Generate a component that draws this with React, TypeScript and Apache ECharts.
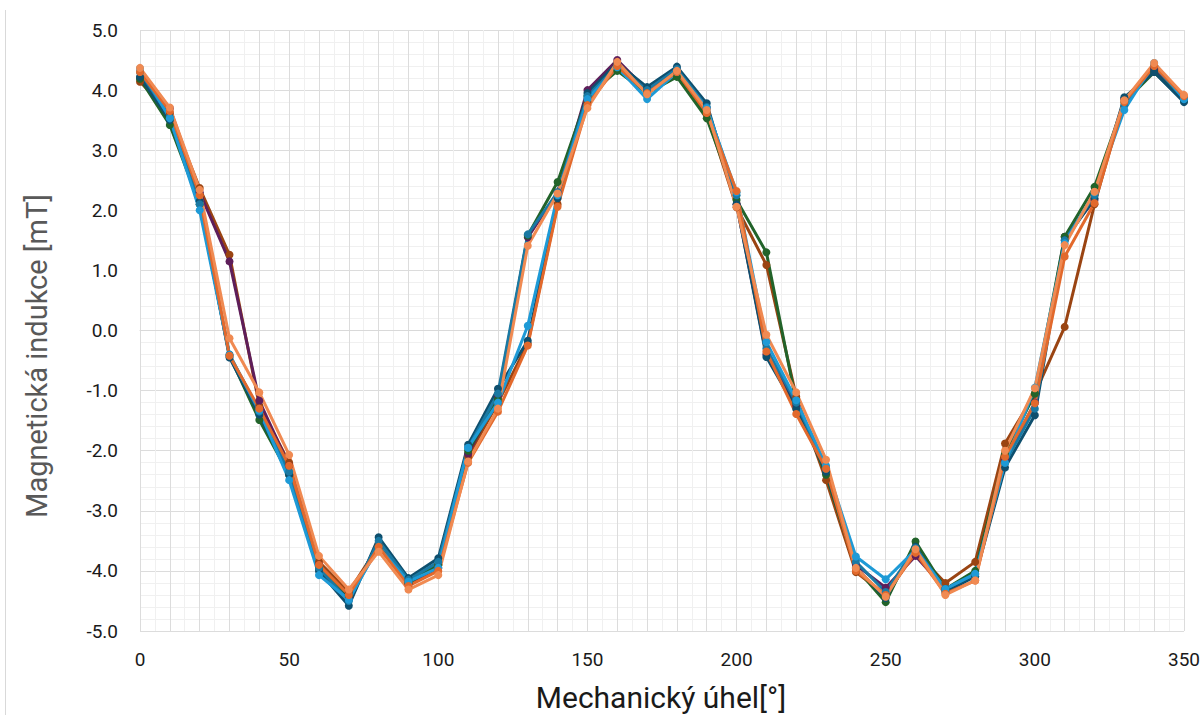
import React, { useEffect, useRef } from "react";
import * as echarts from "echarts";

const angles = [0,10,20,30,40,50,60,70,80,90,100,110,120,130,140,150,160,170,180,190,200,210,220,230,240,250,260,270,280,290,300,310,320,330,340,350];

const brown = [4.14,3.62,2.37,1.26,-1.25,-2.2,-3.85,-4.35,-3.58,-4.18,-3.9,-2.1,-1.2,-0.22,2.1,3.8,4.4,3.95,4.3,3.6,2.05,1.09,-1.1,-2.49,-4.02,-4.4,-3.68,-4.2,-3.85,-1.88,-1.05,0.06,2.1,3.85,4.35,3.88];
const purple = [4.2,3.7,2.3,1.15,-1.17,-2.25,-3.9,-4.45,-3.6,-4.22,-3.95,-2.05,-1.1,1.55,2.3,4.0,4.5,4.0,4.35,3.7,2.1,-0.4,-1.25,-2.3,-3.9,-4.28,-3.75,-4.3,-4.05,-2.15,-1.2,1.56,2.17,3.85,4.35,3.85];
const green = [4.19,3.42,2.1,-0.42,-1.49,-2.4,-3.95,-4.41,-3.6,-4.2,-3.9,-2.0,-1.15,1.58,2.47,3.9,4.32,3.95,4.22,3.53,2.17,1.3,-1.2,-2.4,-3.95,-4.52,-3.51,-4.3,-4.0,-2.05,-1.05,1.56,2.39,3.8,4.3,3.82];
const navy = [4.22,3.5,2.15,-0.45,-1.4,-2.4,-4.0,-4.58,-3.44,-4.12,-3.79,-1.9,-0.97,-0.17,2.2,3.95,4.45,4.05,4.39,3.78,2.1,-0.44,-1.3,-2.35,-3.95,-4.45,-3.6,-4.35,-4.09,-2.28,-1.41,1.5,2.2,3.88,4.3,3.8];
const teal = [4.3,3.55,2.1,-0.4,-1.35,-2.35,-3.95,-4.5,-3.5,-4.15,-3.85,-1.95,-1.05,1.6,2.3,3.9,4.4,4.0,4.35,3.72,2.25,-0.3,-1.2,-2.3,-3.85,-4.35,-3.62,-4.3,-4.05,-2.2,-1.3,1.5,2.25,3.75,4.4,3.85];
const lightBlue = [4.36,3.53,2.0,-0.41,-1.33,-2.49,-4.07,-4.48,-3.6,-4.18,-3.95,-1.95,-1.2,0.08,2.25,3.85,4.38,3.85,4.3,3.7,2.3,-0.19,-1.16,-2.25,-3.76,-4.14,-3.65,-4.3,-4.05,-2.2,-0.95,1.45,2.3,3.67,4.45,3.85];
const orange = [4.3,3.65,2.25,-0.42,-1.3,-2.25,-3.9,-4.4,-3.6,-4.25,-4.0,-2.2,-1.35,-0.25,2.06,3.75,4.4,3.95,4.3,3.62,2.32,-0.35,-1.39,-2.3,-4.0,-4.4,-3.7,-4.38,-4.16,-2.1,-1.21,1.23,2.12,3.8,4.4,3.9];
const lightOrange = [4.37,3.71,2.34,-0.13,-1.03,-2.07,-3.75,-4.31,-3.68,-4.31,-4.07,-2.18,-1.3,1.41,2.28,3.7,4.47,3.93,4.32,3.67,2.06,-0.07,-1.03,-2.15,-3.95,-4.43,-3.64,-4.4,-4.16,-2.0,-0.96,1.42,2.31,3.83,4.45,3.92];

const seriesList = [
  { name: "S1", data: brown, color: "#9A4412" },
  { name: "S2", data: purple, color: "#5E1E5A" },
  { name: "S3", data: green, color: "#22632A" },
  { name: "S4", data: navy, color: "#0E4F6E" },
  { name: "S5", data: teal, color: "#1A79A3" },
  { name: "S6", data: lightBlue, color: "#1E9AD6" },
  { name: "S7", data: orange, color: "#E2692C" },
  { name: "S8", data: lightOrange, color: "#F08A52" },
];

const xTitle = "Mechanický úhel[°]";
const yTitle = "Magnetická indukce [mT]";

export default function App() {
  const ref = useRef<HTMLDivElement>(null);
  useEffect(() => {
    document.body.style.margin = "0";
    const chart = echarts.init(ref.current!, null, { renderer: "svg" });
    const font = "Roboto, 'Noto Sans', sans-serif";
    chart.setOption({
      animation: false,
      grid: { left: 140, right: 20, top: 30, bottom: 84 },
      xAxis: {
        type: "value",
        min: 0,
        max: 350,
        interval: 10,
        axisLine: { show: true, lineStyle: { color: "#D9D9D9", width: 1 } },
        axisTick: { show: false },
        axisLabel: {
          margin: 19,
          fontSize: 19,
          color: "#1a1a1a",
          fontFamily: font,
          formatter: (v: number) => (v % 50 === 0 ? String(v) : ""),
        },
        splitLine: { show: true, lineStyle: { color: "#DCDCDC", width: 1 } },
        minorTick: { show: false, splitNumber: 2 },
        minorSplitLine: { show: true, lineStyle: { color: "#F0F0F0", width: 1 } },
      },
      yAxis: {
        type: "value",
        min: -5,
        max: 5,
        interval: 1,
        axisLine: { show: false },
        axisTick: { show: false },
        axisLabel: {
          margin: 22,
          fontSize: 19,
          color: "#1a1a1a",
          fontFamily: font,
          formatter: (v: number) => v.toFixed(1),
        },
        splitLine: { show: true, lineStyle: { color: "#DCDCDC", width: 1 } },
        minorTick: { show: false, splitNumber: 5 },
        minorSplitLine: { show: true, lineStyle: { color: "#F0F0F0", width: 1 } },
      },
      graphic: [
        {
          type: "line",
          shape: { x1: 5.5, y1: 10, x2: 5.5, y2: 715 },
          style: { stroke: "#D9D9D9", lineWidth: 1 },
        },
        {
          type: "text",
          x: 661,
          y: 697,
          style: {
            text: xTitle,
            fontSize: 30,
            fontFamily: font,
            fill: "#1a1a1a",
            align: "center",
            verticalAlign: "middle",
          },
        },
        {
          type: "text",
          x: 37,
          y: 356,
          rotation: Math.PI / 2,
          style: {
            text: yTitle,
            fontSize: 29,
            fontFamily: font,
            fill: "#595959",
            align: "center",
            verticalAlign: "middle",
          },
        },
      ],
      series: seriesList.map((s) => ({
        name: s.name,
        type: "line",
        data: angles.map((a, i) => [a, s.data[i]]),
        symbol: "circle",
        symbolSize: 8,
        showSymbol: true,
        lineStyle: { color: s.color, width: 3 },
        itemStyle: { color: s.color },
        z: 2,
      })),
    });
    return () => chart.dispose();
  }, []);
  return <div ref={ref} style={{ width: 1204, height: 715 }} />;
}
